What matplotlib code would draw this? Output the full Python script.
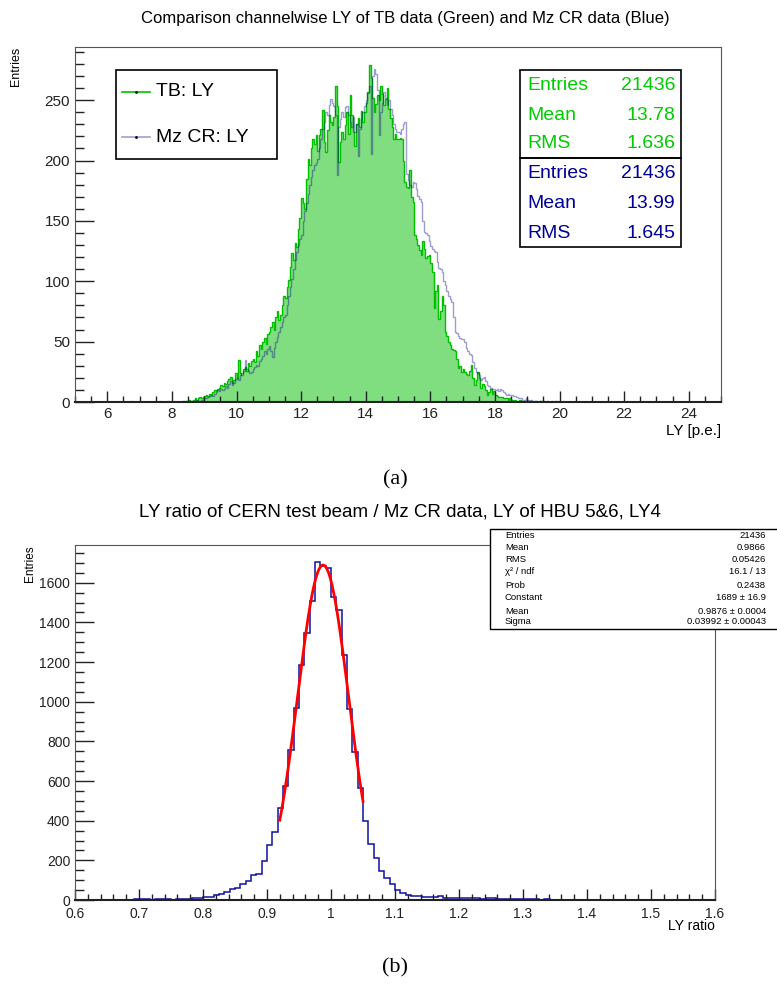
import numpy as np
import matplotlib
matplotlib.use('Agg')
import matplotlib.pyplot as plt
from matplotlib.patches import Rectangle
from matplotlib.lines import Line2D
from matplotlib.ticker import MultipleLocator, FuncFormatter

W, H = 777, 989
NARROW = ['Liberation Sans Narrow', 'Liberation Sans', 'DejaVu Sans']
SANS = ['Liberation Sans', 'DejaVu Sans']
SERIF = ['Liberation Serif', 'DejaVu Serif']

# ---- (a) channelwise LY, bins of 0.05 p.e. ----
ly_lo, ly_hi, ly_bin = 5.0, 25.0, 0.05

tb_start = 8.0
tb_counts = [
    0, 0, 0, 0, 0, 0, 0, 1, 1, 0, 2, 1, 1, 2, 3, 2, 3, 4, 3, 4,                      # 8
    5, 6, 5, 7, 6, 8, 10, 9, 11, 12, 14, 13, 16, 15, 17, 19, 21, 16, 18, 24,         # 9
    20, 35, 24, 22, 27, 29, 26, 32, 30, 34, 36, 33, 42, 38, 47, 44, 50, 53, 48, 56,  # 10
    58, 62, 66, 60, 70, 75, 68, 72, 80, 88, 86, 95, 101, 112, 123, 118, 132, 128, 143, 152,
    169, 165, 160, 185, 201, 196, 210, 218, 214, 221, 208, 221, 226, 242, 215, 207, 225, 238, 232, 229,
    236, 262, 245, 199, 215, 224, 218, 229, 240, 222, 254, 238, 224, 212, 230, 235, 228, 241, 232, 240,
    248, 257, 279, 268, 252, 240, 247, 254, 250, 262, 255, 246, 251, 260, 243, 235, 228, 218, 222, 218,
    218, 219, 218, 200, 182, 178, 177, 192, 170, 166, 138, 135, 130, 126, 122, 133, 127, 119, 121, 122,
    115, 108, 78, 92, 97, 69, 75, 88, 80, 58, 55, 50, 47, 44, 43, 42, 36, 28, 30, 25,
    27, 25, 23, 22, 26, 31, 20, 14, 18, 25, 20, 12, 15, 13, 10, 6, 8, 11, 7, 9,      # 17
    6, 5, 4, 4, 4, 3, 3, 3, 2, 3, 2, 1, 2, 1, 1, 2, 1, 0, 1, 1,                      # 18
    1, 0, 1, 0, 0, 1, 0, 0, 1, 0, 0, 0, 1, 0, 0, 0, 0, 1, 0, 0,                      # 19
]

cr_start = 6.0
cr_counts = [
    0, 0, 0, 0, 0, 0, 0, 0, 0, 0, 0, 0, 0, 0, 1, 0, 0, 0, 0, 0,                      # 6
    0, 0, 0, 0, 0, 0, 0, 0, 0, 0, 0, 0, 1, 0, 0, 0, 0, 1, 0, 0,                      # 7
    0, 1, 0, 0, 0, 0, 1, 0, 0, 1, 0, 1, 1, 0, 1, 2, 1, 1, 2, 2,                      # 8
    3, 3, 4, 5, 6, 5, 7, 8, 10, 9, 11, 10, 11, 13, 12, 15, 17, 14, 16, 19,           # 9
    20, 18, 22, 24, 26, 35, 27, 26, 24, 25, 27, 29, 31, 30, 34, 36, 38, 42, 40, 44,  # 10
    46, 42, 37, 45, 50, 54, 58, 62, 66, 70, 72, 80, 88, 95, 102, 110, 118, 124, 130, 135,
    138, 150, 158, 165, 172, 180, 186, 192, 196, 198, 201, 210, 218, 226, 232, 240, 238, 246, 251, 248,
    245, 238, 188, 228, 234, 240, 236, 244, 245, 238, 232, 228, 236, 224, 230, 204, 226, 234, 240, 245,
    250, 256, 262, 205, 270, 276, 272, 258, 221, 240, 248, 257, 252, 246, 250, 243, 238, 230, 226, 224,
    224, 222, 226, 230, 232, 189, 184, 180, 178, 182, 181, 176, 171, 168, 166, 150, 141, 140, 138, 133,
    129, 127, 125, 124, 116, 111, 110, 108, 100, 97, 92, 88, 85, 83, 70, 58, 57, 55, 53, 52,
    52, 50, 45, 42, 40, 39, 33, 28, 25, 24, 22, 18, 20, 21, 17, 14, 13, 12, 11, 11,  # 17
    10, 11, 9, 11, 10, 8, 7, 6, 7, 6, 6, 5, 5, 4, 3, 3, 3, 2, 2, 3,                  # 18
    2, 1, 2, 1, 1, 1, 0, 1, 1, 0, 1, 0, 1, 0, 0, 1, 0, 0, 1, 0,                      # 19
    0, 0, 1, 0, 0, 0, 0, 0, 0, 0, 0, 0, 0, 0, 0, 0, 0, 0, 0, 0,                      # 20
]

tb_stats = [("Entries", "21436"), ("Mean", "13.78"), ("RMS", "1.636")]
cr_stats = [("Entries", "21436"), ("Mean", "13.99"), ("RMS", "1.645")]

# ---- (b) ratio TB / CR, 120 bins in [0.6, 1.6] ----
ratio_lo, ratio_hi = 0.6, 1.6
ratio_counts = [
    1, 0, 1, 1, 0, 2, 1, 2, 2, 1, 2, 4, 6, 3, 2, 3, 4, 3, 2, 4, 5, 7, 8, 9,
    13, 15, 25, 28, 42, 54, 59, 82, 97, 126, 133, 197, 279, 341, 462, 576,
    758, 968, 1183, 1345, 1508, 1706, 1686, 1672, 1526, 1462, 1235, 961, 748, 566,
    400, 282, 210, 148, 109, 82,
    48, 34, 25, 20, 19, 16, 13, 15, 18, 12, 11, 10, 9, 10, 8, 9, 7, 8, 9, 6,
    5, 6, 4, 5, 3, 4, 3, 2, 3, 2, 2, 1, 2, 1, 1, 1, 0, 1, 1, 0,
    1, 0, 0, 1, 0, 0, 0, 1, 0, 0, 0, 0, 0, 0, 0, 0, 0, 0, 0, 0,
]
fit_const, fit_mean, fit_sigma = 1689.0, 0.9876, 0.03992
fit_lo, fit_hi = 0.92, 1.05
ratio_stats = [
    ("Entries", "21436"), ("Mean", "0.9866"), ("RMS", "0.05426"),
    ("χ² / ndf", "16.1 / 13"), ("Prob", "0.2438"), ("Constant", "1689 ± 16.9"),
    ("Mean", "0.9876 ± 0.0004"), ("Sigma", "0.03992 ± 0.00043"),
]


def fx(x):
    return x / W


def fy(y):
    return 1 - y / H


def ftext(x, y, s, **kw):
    fig.text(fx(x), fy(y), s, **kw)


def fbox(x0, y0, x1, y1, lw=1.0):
    fig.add_artist(Rectangle((fx(x0), fy(y1)), (x1 - x0) / W, (y1 - y0) / H,
                             transform=fig.transFigure, fill=False,
                             edgecolor='black', lw=lw))


def full_hist(start, counts):
    nb = int(round((ly_hi - ly_lo) / ly_bin))
    h = np.zeros(nb)
    i0 = int(round((start - ly_lo) / ly_bin))
    h[i0:i0 + len(counts)] = counts
    return h


fig = plt.figure(figsize=(W / 100, H / 100), dpi=100)

# ================= (a) =================
ax1 = fig.add_axes([fx(75), fy(402), 646 / W, 355 / H])
edges = np.linspace(ly_lo, ly_hi, int(round((ly_hi - ly_lo) / ly_bin)) + 1)
tb = full_hist(tb_start, tb_counts)
cr = full_hist(cr_start, cr_counts)

ax1.stairs(tb, edges, fill=True, color='#80dd80', lw=0)
ax1.stairs(tb, edges, color='#00c000', lw=1.0)
ax1.stairs(cr, edges, color='#000080', alpha=0.38, lw=1.0)

ax1.set_xlim(ly_lo, ly_hi)
ax1.set_ylim(0, 294)
ax1.xaxis.set_major_locator(MultipleLocator(2))
ax1.xaxis.set_minor_locator(MultipleLocator(0.5))
ax1.yaxis.set_major_locator(MultipleLocator(50))
ax1.yaxis.set_minor_locator(MultipleLocator(10))
ax1.set_xticks([6, 8, 10, 12, 14, 16, 18, 20, 22, 24])
for lab in ax1.get_xticklabels() + ax1.get_yticklabels():
    lab.set_family(NARROW)
    lab.set_fontsize(11)

# ================= (b) =================
ax2 = fig.add_axes([fx(75), fy(900), 640 / W, 355 / H])
r_edges = np.linspace(ratio_lo, ratio_hi, len(ratio_counts) + 1)
ax2.stairs(ratio_counts, r_edges, color='#1010a0', lw=1.1)
xf = np.linspace(fit_lo, fit_hi, 300)
ax2.plot(xf, fit_const * np.exp(-0.5 * ((xf - fit_mean) / fit_sigma) ** 2),
         color='#ff0000', lw=2)
ax2.set_xlim(ratio_lo, ratio_hi)
ax2.set_ylim(0, 1790)
ax2.xaxis.set_major_locator(MultipleLocator(0.1))
ax2.xaxis.set_minor_locator(MultipleLocator(0.02))
ax2.yaxis.set_major_locator(MultipleLocator(200))
ax2.yaxis.set_minor_locator(MultipleLocator(50))
ax2.xaxis.set_major_formatter(FuncFormatter(lambda v, p: '%g' % round(v, 3)))
for lab in ax2.get_xticklabels() + ax2.get_yticklabels():
    lab.set_family(SANS)
    lab.set_fontsize(10)

for ax in (ax1, ax2):
    ax.tick_params(which='both', direction='in', top=False, right=False, colors='#222222')
    ax.tick_params(axis='y', which='major', length=13.5, width=1)
    ax.tick_params(axis='y', which='minor', length=6.5, width=1)
    ax.tick_params(axis='x', which='major', length=8, width=1)
    ax.tick_params(axis='x', which='minor', length=4, width=1)
    for s in ('top', 'right', 'left'):
        ax.spines[s].set_color('#555555')
    ax.spines['bottom'].set_color('#222222')
    ax.spines['bottom'].set_linewidth(1.5)
ax2.tick_params(axis='x', which='major', pad=5)

# ---- texts (a) ----
ftext(405, 18, 'Comparison channelwise LY of TB data (Green) and Mz CR data (Blue)',
      ha='center', va='center', family=NARROW, fontsize=12)
ftext(16, 47, 'Entries', rotation=90, ha='center', va='top', family=SANS, fontsize=9)
ftext(721, 431, 'LY [p.e.]', ha='right', va='center', family=NARROW, fontsize=11)
ftext(395, 480, '(a)', ha='center', va='center', family=SERIF, fontsize=16)

# legend
fbox(116, 70, 277, 159, lw=1.2)
for yy, col, al, txt in ((92, '#00c000', 1.0, 'TB: LY'), (137, '#000080', 0.38, 'Mz CR: LY')):
    fig.add_artist(Line2D([fx(122), fx(150)], [fy(yy), fy(yy)], transform=fig.transFigure,
                          color=col, alpha=al, lw=1.2))
    fig.add_artist(Line2D([fx(136)], [fy(yy)], transform=fig.transFigure, marker='.',
                          color='black', markersize=2))
    ftext(156, yy, txt, ha='left', va='center', family=NARROW, fontsize=14)

# stats boxes
fbox(520, 70, 681, 158, lw=1.2)
fbox(520, 158, 681, 247, lw=1.2)
for (name, val), yy in zip(tb_stats, (85, 115, 144)):
    ftext(527, yy, name, ha='left', va='center', family=NARROW, fontsize=14, color='#00cc00')
    ftext(675, yy, val, ha='right', va='center', family=NARROW, fontsize=14, color='#00cc00')
for (name, val), yy in zip(cr_stats, (174, 204, 234)):
    ftext(527, yy, name, ha='left', va='center', family=NARROW, fontsize=14, color='#000099')
    ftext(675, yy, val, ha='right', va='center', family=NARROW, fontsize=14, color='#000099')

# ---- texts (b) ----
ftext(400, 512, 'LY ratio of CERN test beam / Mz CR data, LY of HBU 5&6, LY4',
      ha='center', va='center', family=SANS, fontsize=13.5)
ftext(30, 545, 'Entries', rotation=90, ha='center', va='top', family=SANS, fontsize=8.5)
ftext(715, 926, 'LY ratio', ha='right', va='center', family=SANS, fontsize=10)
ftext(395, 968, '(b)', ha='center', va='center', family=SERIF, fontsize=16)

fig.add_artist(Rectangle((fx(490), fy(629)), 300 / W, 100 / H, transform=fig.transFigure,
                         facecolor='white', edgecolor='black', lw=1.0))
for (name, val), yy in zip(ratio_stats, (536, 548, 560, 572, 585, 598, 611, 622)):
    ftext(505, yy, name, ha='left', va='center', family=SANS, fontsize=6.8)
    ftext(766, yy, val, ha='right', va='center', family=SANS, fontsize=6.8)

fig.savefig('out.png', dpi=100)
